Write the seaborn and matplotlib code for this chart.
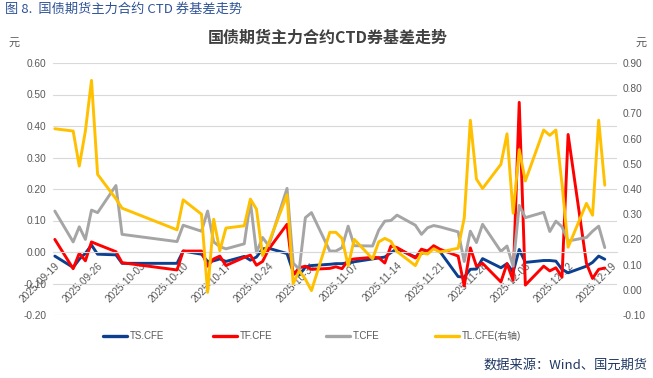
import numpy as np
import pandas as pd
import matplotlib
matplotlib.use("Agg")
import matplotlib.pyplot as plt
import matplotlib.dates as mdates
import matplotlib.ticker as mticker
import seaborn as sns
from matplotlib.lines import Line2D

# ---------------- data ----------------
dates = [
    "2025-09-19", "2025-09-22", "2025-09-23", "2025-09-24", "2025-09-25", "2025-09-26",
    "2025-09-29", "2025-09-30", "2025-10-09", "2025-10-10", "2025-10-13", "2025-10-14",
    "2025-10-15", "2025-10-16", "2025-10-17", "2025-10-20", "2025-10-21", "2025-10-22",
    "2025-10-23", "2025-10-24", "2025-10-27", "2025-10-28", "2025-10-29", "2025-10-30",
    "2025-10-31", "2025-11-03", "2025-11-04", "2025-11-05", "2025-11-06", "2025-11-07",
    "2025-11-10", "2025-11-11", "2025-11-12", "2025-11-13", "2025-11-14", "2025-11-17",
    "2025-11-18", "2025-11-19", "2025-11-20", "2025-11-21", "2025-11-24", "2025-11-25",
    "2025-11-26", "2025-11-27", "2025-11-28", "2025-12-01", "2025-12-02", "2025-12-03",
    "2025-12-04", "2025-12-05", "2025-12-08", "2025-12-09", "2025-12-10", "2025-12-11",
    "2025-12-12", "2025-12-15", "2025-12-16", "2025-12-17", "2025-12-18",
]

ts_cfe = [
    -0.013, -0.049, -0.023, -0.004, 0.022, -0.007,
    -0.009, -0.036, -0.036, 0.003, -0.007, -0.030,
    -0.028, -0.022, -0.030, -0.014, -0.026, -0.016,
    0.010, 0.012, -0.005, -0.063, -0.073, -0.048,
    -0.043, -0.039, -0.037, -0.037, -0.034, -0.031,
    -0.022, -0.019, -0.016, -0.002, 0.010, -0.016,
    -0.005, 0.003, 0.012, 0.002, -0.078, -0.080,
    -0.055, -0.054, -0.021, -0.050, -0.037, -0.064,
    0.008, -0.033, -0.027, -0.027, -0.029, -0.055,
    -0.066, -0.045, -0.033, -0.013, -0.023,
]

tf_cfe = [
    0.040, -0.053, -0.004, -0.028, 0.032, 0.024,
    0.001, -0.034, -0.057, 0.003, 0.003, -0.045,
    -0.022, -0.013, -0.043, -0.017, -0.010, -0.042,
    -0.030, 0.009, 0.088, -0.073, -0.050, -0.045,
    -0.055, -0.052, -0.047, -0.053, -0.026, -0.022,
    -0.017, -0.018, -0.035, 0.019, 0.014, -0.019,
    0.009, 0.003, 0.020, 0.009, -0.013, -0.108,
    0.013, -0.045, -0.036, -0.095, -0.037, -0.090,
    0.475, -0.105, -0.045, -0.060, -0.050, -0.080,
    0.373, -0.036, -0.084, -0.055, -0.051,
]

t_cfe = [
    0.130, 0.032, 0.080, 0.040, 0.133, 0.125,
    0.211, 0.056, 0.033, 0.085, 0.066, 0.130,
    0.032, 0.017, 0.010, 0.026, 0.160, -0.002,
    0.046, 0.020, 0.202, -0.035, -0.055, 0.109,
    0.125, 0.003, 0.003, 0.014, 0.082, 0.020,
    0.019, 0.069, 0.098, 0.100, 0.117, 0.085,
    0.056, 0.077, 0.084, 0.080, 0.064, -0.030,
    0.066, 0.030, 0.088, 0.002, 0.019, -0.045,
    0.148, 0.109, 0.126, 0.065, 0.098, 0.080,
    0.035, 0.046, 0.066, 0.082, 0.014,
]

tl_cfe = [
    0.639, 0.630, 0.491, 0.630, 0.831, 0.458,
    0.361, 0.324, 0.238, 0.357, 0.300, -0.010,
    0.280, 0.155, 0.245, 0.254, 0.360, 0.320,
    0.136, 0.186, 0.377, 0.024, 0.076, 0.042,
    -0.003, 0.228, 0.228, 0.204, 0.095, 0.200,
    0.123, 0.190, 0.204, 0.192, 0.152, 0.096,
    0.147, 0.142, 0.163, 0.150, 0.165, 0.285,
    0.673, 0.439, 0.402, 0.498, 0.619, 0.304,
    0.556, 0.432, 0.634, 0.613, 0.634, 0.420,
    0.169, 0.343, 0.296, 0.673, 0.415,
]

series_names = ["TS.CFE", "TF.CFE", "T.CFE"]
right_name = "TL.CFE"
legend_labels = ["TS.CFE", "TF.CFE", "T.CFE", "TL.CFE(右轴)"]
tick_dates = pd.date_range("2025-09-19", "2025-12-19", freq="7D")

# ---------------- style ----------------
sns.set_style("white")
plt.rcParams["font.family"] = ["Liberation Sans", "Noto Sans CJK SC", "DejaVu Sans"]
plt.rcParams["axes.unicode_minus"] = False

colors = {"TS.CFE": "#0D3F8F", "TF.CFE": "#FF0000", "T.CFE": "#A5A5A5", "TL.CFE": "#FFC000"}
tick_color = "#595959"
lw = 2.1

df = pd.DataFrame({
    "date": pd.to_datetime(dates),
    "TS.CFE": ts_cfe, "TF.CFE": tf_cfe, "T.CFE": t_cfe, "TL.CFE": tl_cfe,
})
long_df = df.melt(id_vars="date", value_vars=series_names, var_name="series", value_name="basis")

W, H = 653, 378
fig = plt.figure(figsize=(W / 100, H / 100), dpi=100)
ax = fig.add_axes([53 / W, (H - 315) / H, (617 - 53) / W, (315 - 63) / H])

sns.lineplot(data=long_df, x="date", y="basis", hue="series", hue_order=series_names,
             palette=colors, linewidth=lw, ax=ax, legend=False,
             solid_joinstyle="round", solid_capstyle="round")

ax2 = ax.twinx()
sns.lineplot(data=df, x="date", y=right_name, color=colors["TL.CFE"], linewidth=lw, ax=ax2,
             legend=False, solid_joinstyle="round", solid_capstyle="round")

# x axis
x0 = pd.Timestamp("2025-09-19") - pd.Timedelta(days=0.3)
x1 = pd.Timestamp("2025-12-19") + pd.Timedelta(days=1.0)
ax.set_xlim(x0, x1)
ax.xaxis.set_major_locator(mticker.FixedLocator(mdates.date2num(tick_dates.to_pydatetime())))
ax.xaxis.set_major_formatter(mdates.DateFormatter("%Y-%m-%d"))
ax.xaxis.set_minor_locator(mticker.NullLocator())
ax.tick_params(axis="x", length=4, color="#bfbfbf", width=0.8, pad=2,
               labelsize=7.3, labelcolor=tick_color, labelrotation=45)

# left y axis
ax.set_ylim(-0.2, 0.6)
yt = np.round(np.arange(-0.2, 0.61, 0.1), 2)
ax.set_yticks(yt)
ax.set_yticklabels([f"{v:.2f}" for v in yt], fontsize=7.3, color=tick_color)
ax.tick_params(axis="y", length=0, pad=5)
ax.yaxis.grid(True, color="#d9d9d9", linewidth=0.8)
ax.xaxis.grid(False)
ax.set_axisbelow(True)
for s in ["left", "right", "top"]:
    ax.spines[s].set_visible(False)
ax.spines["bottom"].set_position(("data", 0))
ax.spines["bottom"].set_color("#d9d9d9")
ax.spines["bottom"].set_linewidth(0.8)
ax.set_xlabel("")
ax.set_ylabel("")

# right y axis
ax2.set_ylim(-0.1, 0.9)
yt2 = np.round(np.arange(-0.1, 0.91, 0.1), 2)
ax2.set_yticks(yt2)
ax2.set_yticklabels([f"{v:.2f}" for v in yt2], fontsize=7.3, color=tick_color)
ax2.tick_params(axis="y", length=0, pad=4)
ax2.tick_params(axis="x", which="both", bottom=False, top=False, labelbottom=False, labeltop=False)
for s in ax2.spines.values():
    s.set_visible(False)
ax2.set_xlabel("")
ax2.set_ylabel("")
ax2.grid(False)

# texts
fig.text(5 / W, 1 - 9 / H, "图 8.  国债期货主力合约 CTD 券基差走势", ha="left", va="center",
         fontsize=9.5, color="#2F5496", family=["Noto Sans CJK SC", "DejaVu Sans"])
fig.text(328 / W, 1 - 38 / H, "国债期货主力合约CTD券基差走势", ha="center", va="center",
         fontsize=11.5, fontweight="bold", color="#404040",
         family=["Noto Sans CJK SC", "DejaVu Sans"])
fig.text(14 / W, 1 - 43 / H, "元", ha="center", va="center", fontsize=8, color=tick_color,
         family=["Noto Sans CJK SC"])
fig.text(641 / W, 1 - 43 / H, "元", ha="center", va="center", fontsize=8, color=tick_color,
         family=["Noto Sans CJK SC"])
fig.text(648 / W, 1 - 365 / H, "数据来源：Wind、国元期货", ha="right", va="center",
         fontsize=9.5, color="#1F3864", family=["Noto Sans CJK SC", "DejaVu Sans"])

# legend (Excel style, evenly spaced slots)
legend_x = [103, 213, 326, 435]
legend_colors = [colors["TS.CFE"], colors["TF.CFE"], colors["T.CFE"], colors["TL.CFE"]]
for lab, c, xp in zip(legend_labels, legend_colors, legend_x):
    fig.legend(handles=[Line2D([0], [0], color=c, lw=2.4)], labels=[lab],
               loc="center left", bbox_to_anchor=(xp / W, 1 - 336 / H),
               frameon=False, fontsize=7, handlelength=2.45, handletextpad=0.3,
               borderpad=0, borderaxespad=0, labelcolor=tick_color)

fig.canvas.draw()
for lab in ax.get_xticklabels():
    lab.set_rotation(45)
    lab.set_ha("right")
    lab.set_rotation_mode("anchor")

fig.savefig("out.png", dpi=100)
